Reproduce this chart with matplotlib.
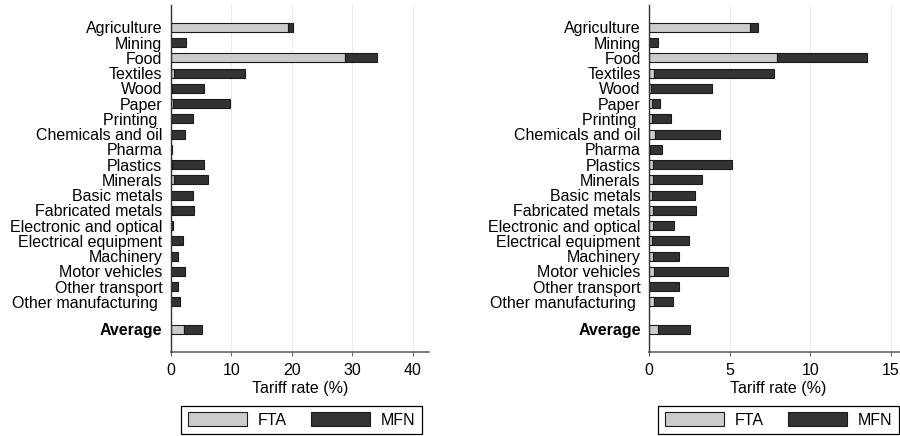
import numpy as np
import matplotlib.pyplot as plt
from matplotlib.patches import Patch

plt.rcParams['font.family'] = ['Liberation Sans', 'DejaVu Sans']

sectors = ["Agriculture", "Mining", "Food", "Textiles", "Wood", "Paper",
           "Printing ", "Chemicals and oil", "Pharma", "Plastics", "Minerals",
           "Basic metals", "Fabricated metals", "Electronic and optical",
           "Electrical equipment", "Machinery", "Motor vehicles",
           "Other transport", "Other manufacturing ", "Average"]

# left panel
fta_left = [19.3, 0.05, 28.8, 0.5, 0.2, 0.4, 0.1, 0.1, 0.05, 0.25, 0.55,
            0.1, 0.2, 0.05, 0.1, 0.1, 0.1, 0.05, 0.1, 2.15]
mfn_left = [0.85, 2.55, 5.25, 11.7, 5.35, 9.35, 3.55, 2.2, 0.12, 5.2, 5.55,
            3.55, 3.6, 0.28, 1.9, 1.06, 2.2, 1.1, 1.4, 2.95]

# right panel
fta_right = [6.23, 0.02, 7.94, 0.29, 0.12, 0.2, 0.19, 0.35, 0.05, 0.25, 0.27,
             0.16, 0.27, 0.25, 0.2, 0.22, 0.29, 0.02, 0.33, 0.56]
mfn_right = [0.54, 0.51, 5.56, 7.47, 3.81, 0.46, 1.15, 4.07, 0.73, 4.91, 3.04,
             2.68, 2.67, 1.27, 2.25, 1.67, 4.63, 1.87, 1.13, 2.01]

ypos = np.r_[np.arange(19), 19.8]

fta_col = "#cccccc"
mfn_col = "#333333"
edge = "#1a1a1a"

fig = plt.figure(figsize=(9, 4.36), dpi=100)
ax1 = fig.add_axes([170.7/900, 1-351.7/436, (429.3-170.7)/900, (351.7-5)/436])
ax2 = fig.add_axes([649/900, 1-351.7/436, (908-649)/900, (351.7-5)/436])


def panel(ax, fta, mfn, xmax, ticks):
    ax.barh(ypos, fta, height=0.6, color=fta_col, edgecolor=edge, linewidth=0.8, zorder=3)
    ax.barh(ypos, mfn, left=fta, height=0.6, color=mfn_col, edgecolor=edge, linewidth=0.8, zorder=3)
    ax.set_ylim(21.27, -1.47)
    ax.set_xlim(0, xmax)
    ax.set_yticks(ypos)
    ax.set_yticklabels(sectors, fontsize=11.5)
    ax.get_yticklabels()[-1].set_fontweight("bold")
    ax.tick_params(axis="y", length=0, pad=6)
    ax.set_xticks(ticks)
    ax.tick_params(axis="x", labelsize=11.5, length=3, color="#666666", pad=5)
    ax.set_xlabel("Tariff rate (%)", fontsize=11.5, labelpad=2.5)
    ax.grid(axis="x", color="#e6eff0", linewidth=0.8, zorder=0)
    for s in ["top", "right"]:
        ax.spines[s].set_visible(False)
    ax.spines["left"].set_color("#333333")
    ax.spines["bottom"].set_color("#666666")
    ax.spines["left"].set_linewidth(1.0)
    ax.spines["bottom"].set_linewidth(1.2)
    ax.spines["left"].set_zorder(4)


panel(ax1, fta_left, mfn_left, 42.7, [0, 10, 20, 30, 40])
panel(ax2, fta_right, mfn_right, 16.05, [0, 5, 10, 15])

handles = [Patch(facecolor=fta_col, edgecolor=edge, linewidth=0.8, label="FTA"),
           Patch(facecolor=mfn_col, edgecolor=edge, linewidth=0.8, label="MFN")]
for cx in [301.7/900, 778.7/900]:
    leg = fig.legend(handles=handles, ncol=2, loc="center", bbox_to_anchor=(cx, 1-420/436),
                     fontsize=11.5, handlelength=3.7, handleheight=1.0, handletextpad=0.7,
                     columnspacing=1.5, borderpad=0.4, borderaxespad=0, fancybox=False,
                     framealpha=1)
    leg.get_frame().set_edgecolor("black")
    leg.get_frame().set_linewidth(0.9)

fig.savefig("out.png", dpi=100)
